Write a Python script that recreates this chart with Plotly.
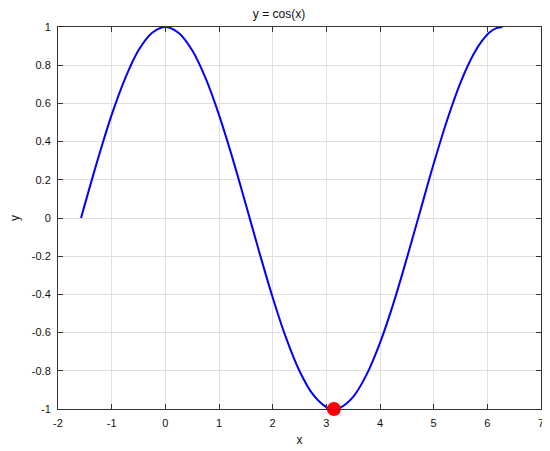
import plotly.graph_objects as go

# curve points
x_vals = [-1.571, -1.25, -1.0, -0.75, -0.5, -0.25, 0.0, 0.25, 0.5, 0.75, 1.0, 1.25, 1.5,
          1.75, 2.0, 2.25, 2.5, 2.75, 3.0, 3.142, 3.25, 3.5, 3.75, 4.0, 4.25, 4.5, 4.75,
          5.0, 5.25, 5.5, 5.75, 5.9, 6.05, 6.17, 6.283]
y_vals = [0.0, 0.315, 0.54, 0.73, 0.878, 0.969, 1.0, 0.969, 0.878, 0.732, 0.54, 0.315, 0.071,
          -0.178, -0.416, -0.628, -0.801, -0.924, -0.99, -1.0, -0.994, -0.936, -0.82, -0.654,
          -0.447, -0.211, 0.037, 0.284, 0.512, 0.709, 0.861, 0.927, 0.974, 0.994, 1.0]

min_x = [3.142]
min_y = [-1.0]

x_ticks = [-2, -1, 0, 1, 2, 3, 4, 5, 6, 7]
y_ticks = [-1, -0.8, -0.6, -0.4, -0.2, 0, 0.2, 0.4, 0.6, 0.8, 1]

fig = go.Figure()
fig.add_trace(go.Scatter(x=x_vals, y=y_vals, mode='lines', line=dict(color='#0000ff', width=2, shape='spline'),
                         showlegend=False))
fig.add_trace(go.Scatter(x=min_x, y=min_y, mode='markers', marker=dict(color='#ff0000', size=14),
                         showlegend=False, cliponaxis=False))

axis_style = dict(showline=True, linecolor='#333333', linewidth=1, mirror='ticks', ticks='inside',
                  ticklen=5, tickcolor='#333333', showgrid=True, gridcolor='#e0e0e0', gridwidth=1,
                  zeroline=False, automargin=False, ticklabelstandoff=4,
                  tickfont=dict(size=11, color='#111111'))

fig.update_xaxes(range=[-2, 7], tickvals=x_ticks, ticktext=[str(v) for v in x_ticks],
                 title=dict(text='x', standoff=7, font=dict(size=12)), **axis_style)
fig.update_yaxes(range=[-1, 1], tickvals=y_ticks, ticktext=[str(v) for v in y_ticks],
                 title=dict(text='y', standoff=10, font=dict(size=12)), **axis_style)

# page body has an 8px margin, so the figure is sized to fit what is left
W, H = 542, 443
fig.update_layout(width=W, height=H, margin=dict(l=50, r=9, t=19, b=42),
                  paper_bgcolor='white', plot_bgcolor='white',
                  font=dict(family='Liberation Sans, Arial, sans-serif', color='#111111'),
                  title=dict(text='y = cos(x)', x=0.5, xanchor='center', yref='container',
                             y=1 - 6 / H, yanchor='middle', automargin=False, font=dict(size=12)))

fig.write_html("out.html")
